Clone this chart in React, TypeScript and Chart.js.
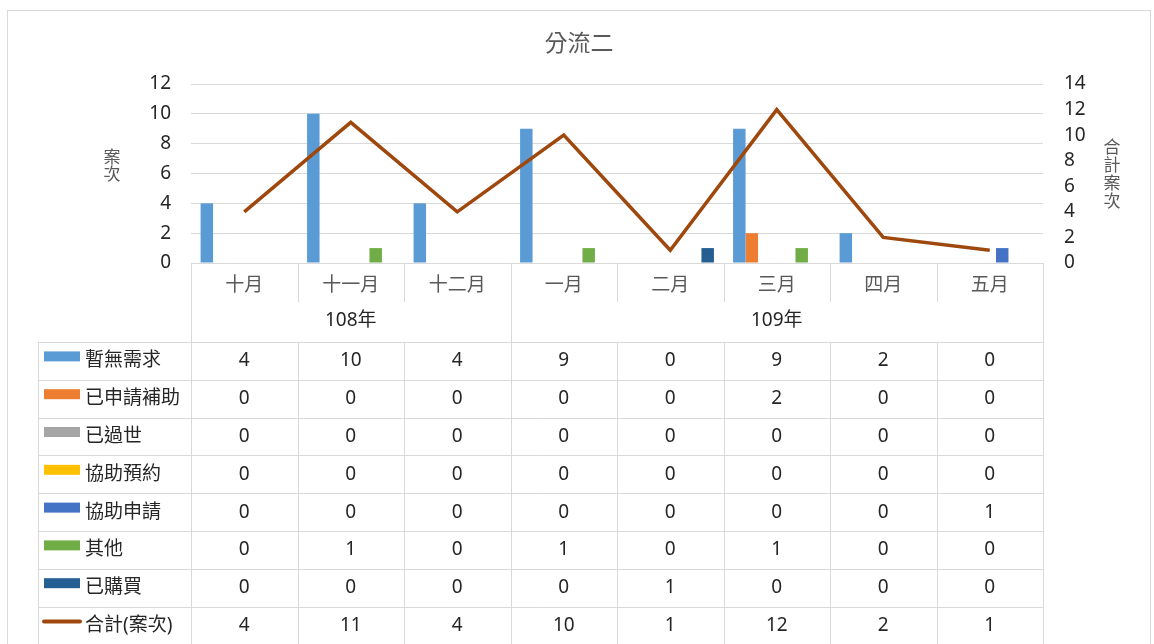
import React, { useEffect, useRef } from 'react';
import { Chart, registerables } from 'chart.js';

Chart.register(...registerables);

const title = '分流二';
const months = ['十月', '十一月', '十二月', '一月', '二月', '三月', '四月', '五月'];
const years = ['108年', '109年'];
const yearSpans = [3, 5];

const seriesNames = ['暫無需求', '已申請補助', '已過世', '協助預約', '協助申請', '其他', '已購買'];
const seriesColors = ['#5B9BD5', '#ED7D31', '#A5A5A5', '#FFC000', '#4472C4', '#70AD47', '#255E91'];

const noNeed = [4, 10, 4, 9, 0, 9, 2, 0];
const appliedSubsidy = [0, 0, 0, 0, 0, 2, 0, 0];
const deceased = [0, 0, 0, 0, 0, 0, 0, 0];
const helpBooking = [0, 0, 0, 0, 0, 0, 0, 0];
const helpApply = [0, 0, 0, 0, 0, 0, 0, 1];
const others = [0, 1, 0, 1, 0, 1, 0, 0];
const purchased = [0, 0, 0, 0, 1, 0, 0, 0];

const totalName = '合計(案次)';
const totalColor = '#9E480E';
const totals = [4, 11, 4, 10, 1, 12, 2, 1];

const leftTicks = { min: 0, max: 12, step: 2 };
const rightTicks = { min: 0, max: 14, step: 2 };
const leftAxisTitle = ['案', '次'];
const rightAxisTitle = ['合', '計', '案', '次'];

const FONT = '"Noto Sans", "Noto Sans CJK TC", sans-serif';
const CJK = '"Noto Sans CJK TC", "Noto Sans", sans-serif';
const GRID = '#d9d9d9';

const barSeries = [noNeed, appliedSubsidy, deceased, helpBooking, helpApply, others, purchased];

const tablePlugin = {
  id: 'excelTable',
  afterDraw(chart: any) {
    const { ctx, chartArea, scales } = chart;
    const xs = scales.x;
    const n = months.length;
    const half = (xs.getPixelForValue(1) - xs.getPixelForValue(0)) / 2;
    const bounds: number[] = [];
    for (let i = 0; i < n; i++) bounds.push(xs.getPixelForValue(i) - half);
    bounds.push(xs.getPixelForValue(n - 1) + half);

    const top = chartArea.bottom;
    const monthBottom = 302;
    const tableTop = 342;
    const rowH = 37.8;
    const tableLeft = 38;
    const rows = chart.data.datasets.length;
    const tableBottom = 700;

    ctx.save();
    ctx.strokeStyle = GRID;
    ctx.lineWidth = 1;
    ctx.strokeRect(7.5, 10.5, 1143, 700);

    ctx.fillStyle = '#595959';
    ctx.font = `23px ${CJK}`;
    ctx.textAlign = 'center';
    ctx.textBaseline = 'middle';
    ctx.fillText(title, 579, 42);

    ctx.font = `17px ${CJK}`;
    leftAxisTitle.forEach((c, i) => ctx.fillText(c, 112, 157 + i * 17));
    rightAxisTitle.forEach((c, i) => ctx.fillText(c, 1112, 147 + i * 18));

    ctx.strokeStyle = GRID;
    ctx.beginPath();
    const yearBreaks: number[] = [0];
    let acc = 0;
    yearSpans.forEach((s) => { acc += s; yearBreaks.push(acc); });
    bounds.forEach((bx, i) => {
      const px = Math.round(bx) + 0.5;
      const full = yearBreaks.includes(i);
      ctx.moveTo(px, top);
      ctx.lineTo(px, full ? tableBottom : monthBottom);
      if (!full) {
        ctx.moveTo(px, tableTop);
        ctx.lineTo(px, tableBottom);
      }
    });
    ctx.moveTo(tableLeft + 0.5, tableTop);
    ctx.lineTo(tableLeft + 0.5, tableBottom);
    for (let r = 0; r <= rows; r++) {
      const y = Math.round(tableTop + r * rowH) + 0.5;
      ctx.moveTo(tableLeft, y);
      ctx.lineTo(bounds[n], y);
    }
    ctx.stroke();

    ctx.fillStyle = '#262626';
    ctx.font = `19px ${FONT}`;
    ctx.textAlign = 'center';
    ctx.textBaseline = 'middle';
    years.forEach((yl, i) => {
      const x0 = bounds[yearBreaks[i]];
      const x1 = bounds[yearBreaks[i + 1]];
      ctx.fillText(yl, (x0 + x1) / 2, 321);
    });

    chart.data.datasets.forEach((ds: any, r: number) => {
      const cy = tableTop + r * rowH + rowH / 2;
      if (ds.type === 'line') {
        ctx.strokeStyle = ds.borderColor;
        ctx.lineWidth = 4;
        ctx.lineCap = 'round';
        ctx.beginPath();
        ctx.moveTo(44, cy - 4);
        ctx.lineTo(80, cy - 4);
        ctx.stroke();
      } else {
        ctx.fillStyle = ds.backgroundColor;
        ctx.fillRect(44, cy - 9.5, 36, 10);
      }
      ctx.fillStyle = '#262626';
      ctx.textAlign = 'left';
      ctx.font = `19px ${FONT}`;
      ctx.fillText(ds.label, 85, cy);
      ctx.textAlign = 'center';
      ds.data.forEach((v: number, i: number) => {
        ctx.fillText(String(v), xs.getPixelForValue(i), cy);
      });
    });
    ctx.restore();
  },
};

export default function App() {
  const ref = useRef<HTMLCanvasElement | null>(null);
  useEffect(() => {
    if (!ref.current) return;
    const datasets: any[] = barSeries.map((d, i) => ({
      type: 'bar',
      label: seriesNames[i],
      data: d,
      backgroundColor: seriesColors[i],
      borderWidth: 0,
      yAxisID: 'y',
      order: 1,
      categoryPercentage: 0.82,
      barPercentage: 1,
    }));
    datasets.push({
      type: 'line',
      label: totalName,
      data: totals,
      borderColor: totalColor,
      backgroundColor: totalColor,
      borderWidth: 3.5,
      pointRadius: 0,
      yAxisID: 'y1',
      order: 0,
      tension: 0,
    });
    const chart = new Chart(ref.current, {
      type: 'bar',
      data: { labels: months, datasets },
      options: {
        animation: false,
        responsive: false,
        devicePixelRatio: 1,
        layout: { padding: { top: 84, left: 0, right: 0, bottom: 0 } },
        plugins: { legend: { display: false }, title: { display: false }, tooltip: { enabled: false } },
        scales: {
          x: {
            grid: { display: false, drawTicks: false },
            border: { display: true, color: GRID },
            ticks: { font: { family: CJK, size: 19 }, color: '#595959', padding: 9, maxRotation: 0, autoSkip: false },
            afterFit: (s: any) => { s.height = 644 - 263; },
          },
          y: {
            position: 'left',
            min: leftTicks.min,
            max: leftTicks.max,
            ticks: { stepSize: leftTicks.step, autoSkip: false, font: { family: FONT, size: 19 }, color: '#262626', padding: 20 },
            grid: { color: GRID, lineWidth: 1, drawTicks: false },
            border: { display: false },
            afterFit: (s: any) => { s.width = 191; },
          },
          y1: {
            position: 'right',
            min: rightTicks.min,
            max: rightTicks.max,
            ticks: { stepSize: rightTicks.step, autoSkip: false, font: { family: FONT, size: 19 }, color: '#262626', padding: 21 },
            grid: { drawOnChartArea: false, drawTicks: false },
            border: { display: false },
            afterFit: (s: any) => { s.width = 1154 - 1043; },
          },
        },
      },
      plugins: [tablePlugin],
    } as any);
    return () => chart.destroy();
  }, []);
  return (
    <div style={{ position: 'absolute', left: 0, top: 0, width: 1154, height: 644, background: '#fff' }}>
      <canvas ref={ref} width={1154} height={644} style={{ width: 1154, height: 644, display: 'block' }} />
    </div>
  );
}
